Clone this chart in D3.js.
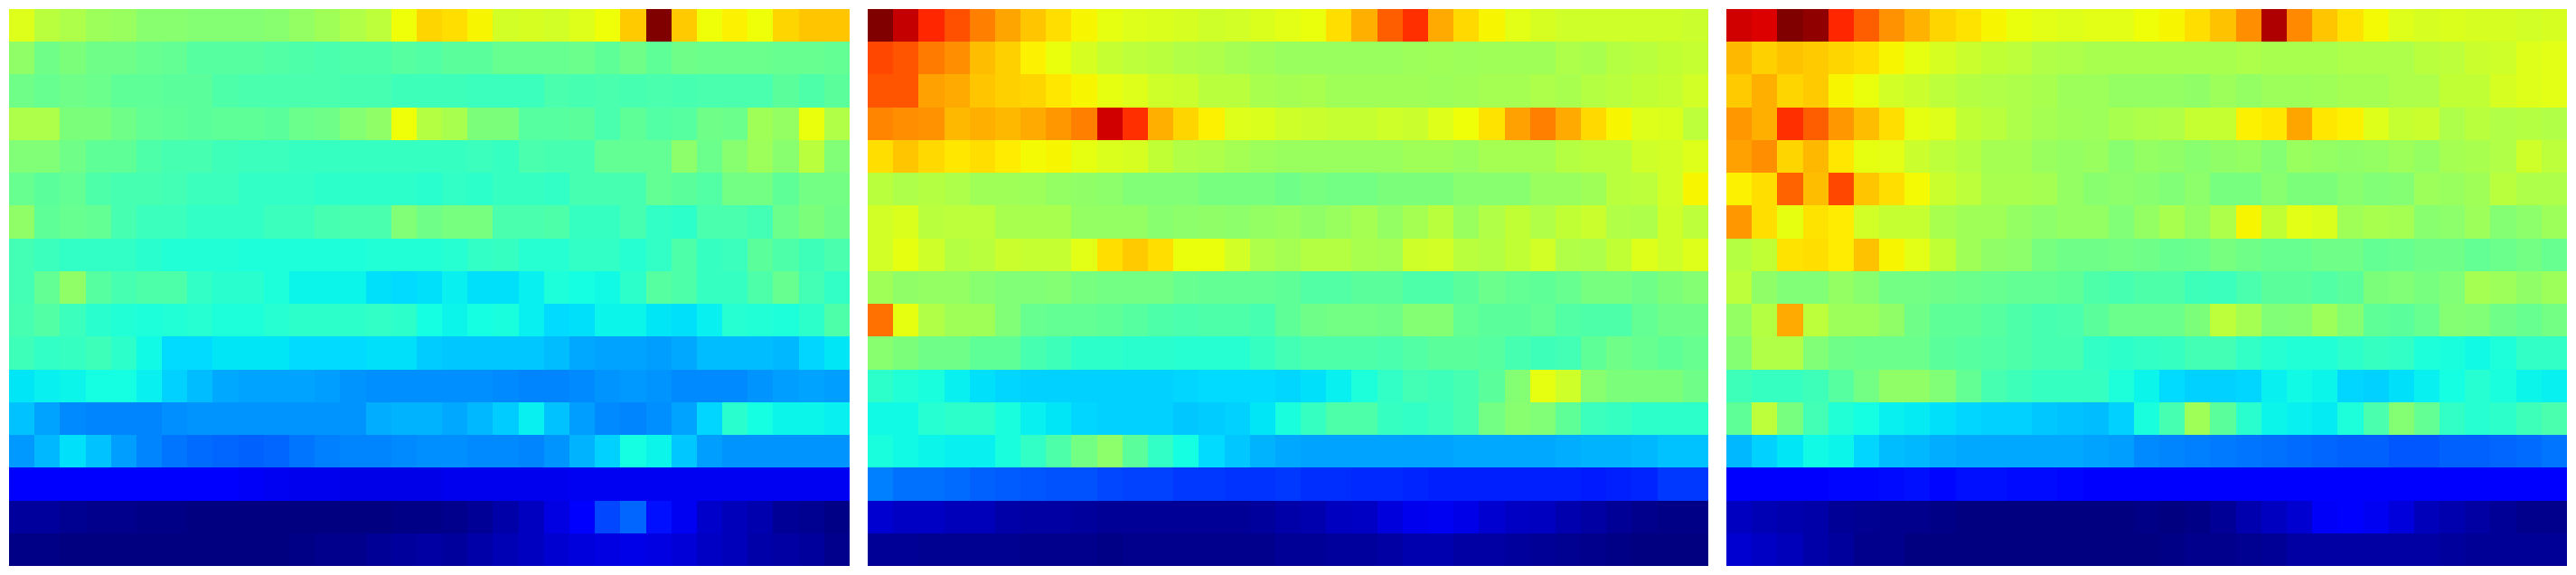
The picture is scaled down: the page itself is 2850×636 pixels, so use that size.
<!DOCTYPE html>
<html><head><meta charset="utf-8">
<script src="https://cdn.jsdelivr.net/npm/d3@7/dist/d3.min.js"></script>
<style>html,body{margin:0;padding:0;background:#fff}svg{display:block}rect{shape-rendering:crispEdges}</style>
</head><body><div id="chart"></div>
<script>
const panelA = [
[62,57.5,56,54,53.5,51.5,51.5,51,51,51,51.5,53,54.5,56.5,58,64,68.5,67.5,65,60.5,61,60.5,62,64,69.5,100,69.5,64,65.5,64,68.5,70,70],
[52.5,48.5,50,48.5,48.5,47.5,47,45.5,45.5,45.5,45,44.5,44,44.5,44.5,45.5,45,46,46,47.5,47.5,47.5,48,46.5,48.5,46.5,48.5,48,48,48,47.5,47.5,47],
[48.5,47.5,48.5,48,46.5,46.5,46,46,44.5,44,44,44,44,43.5,43.5,42.5,42.5,42.5,42,42,42,44,43.5,44,43.5,44,43.5,44,44,44,46,44.5,46],
[56,56,50,50,48.5,47,46.5,46,46.5,46.5,46,48,48.5,51,52.5,64,57,55.5,50,50,45.5,45.5,46,44,46.5,45,45.5,48.5,48,54.5,53,63.5,56.5],
[50.5,50.5,48.5,46.5,46.5,44.5,43.5,43.5,42.5,42,42,41.5,41.5,41.5,41.5,41.5,41.5,41.5,42,41.5,44,43.5,43.5,47,47,47,52,48,51.5,54,51.5,57.5,50.5],
[47.5,46,47,44.5,43.5,43.5,43,42,42,41,41,41,40.5,40.5,40.5,40.5,40,41,40.5,41.5,41.5,41,43.5,43.5,43.5,47,46,45,49,49,46.5,49,49],
[52.5,46.5,47.5,47,43.5,42,42,41,41,41,42,42,43.5,44,44,50.5,48.5,49.5,49.5,44,44,44.5,41.5,41.5,43.5,41,40.5,44,44,43,48,50,48.5],
[43,42,41,41,41,40,39,39,39,38.5,38.5,38.5,38.5,38.5,39,39,39,39.5,41,41.5,39.5,39.5,41,41,39.5,41,44.5,41.5,42,46,44.5,42.5,44],
[43,47,52.5,45.5,43.5,44.5,44.5,41,40,40,38.5,36.5,36.5,36.5,34.5,34,34.5,36,34.5,34.5,36,38.5,37.5,37,40.5,45.5,44.5,41.5,41.5,44.5,47.5,43,41],
[43.5,45,42,40,39,38.5,39,39.5,38.5,38.5,39.5,40.5,40.5,40.5,41,40.5,37.5,36.5,37.5,38,36,34,34.5,36.5,36.5,35,34.5,36,39.5,39,38.5,40.5,44.5],
[42.5,41,41.5,42.5,40.5,37,34,34,35,35,35,34,34,34,34.5,34.5,32.5,32,32,32,32,31,29,28.5,28.5,28,29,31,31,31,30.5,33.5,35],
[35,36,36.5,37.5,37.5,36,33,31,29,28.5,28.5,28.5,28,27,26.5,26.5,26.5,26.5,26.5,26,25.5,25.5,26,27,27.5,27,26,26,26,27,28,28.5,28],
[31.5,28.5,26,25.5,25.5,25.5,26.5,27,27,27,27,27,27,27,29.5,30,30,29,30.5,32.5,36,31.5,28,26,25.5,26.5,28.5,33.5,40,37.5,36.5,36.5,36],
[27.5,30.5,34.5,31.5,28,25.5,24,23,22.5,22,22.5,24,25,25.5,25.5,26,26.5,26.5,26,26,25.5,27,30,33,37.5,36.5,32,28,27,27,27,27,27],
[12,12,12,12,12,12,12,12,11,10.5,10,9.5,9.5,9,9,9,9,9.5,9.5,9.5,9.5,9.5,10,10,10,10,10,10,10,10,10,10,10],
[2.5,2.5,1.5,1,1,0.5,0.5,0,0,0,0,0,0,0,0,0.5,0.5,1,2,3.5,5.5,8.5,12,19.5,22.5,14,10,6.5,5,4,2,1.5,0.5],
[0.5,0.5,0,0,0,0,0,0,0,0,0,0.5,1,1,2,2.5,3,2.5,3.5,4.5,5.5,7,8,8.5,9,8.5,7.5,6,5,3.5,3,2.5,1]
];
const panelB = [
[100,94,87,82.5,77.5,73.5,70,67.5,65,63,62,61.5,61,60,60.5,61.5,62.5,63.5,67.5,72.5,81,86,73,68,65,62.5,61,60,60,60,60,60,59.5],
[83.5,82,78,76,71,69,65.5,63.5,61,59,58,57.5,56.5,56,55,54.5,53.5,53.5,53.5,53.5,53.5,54,54.5,54,54.5,54.5,54.5,56,55.5,57,57.5,58.5,59],
[82,82,74,73,70,69,68.5,66.5,65,63,62,60,59.5,57.5,57.5,55.5,55,55.5,54.5,54.5,54.5,54.5,54,54.5,55,55,56,55.5,57,57.5,58.5,59,60.5],
[77,76,75.5,71.5,72.5,71.5,73,75,77.5,93,86,72.5,68.5,65.5,62,61.5,60,59.5,59,59,60,59.5,62,64,67,74,77.5,73,68,65,62,61.5,58],
[67.5,70,68,66.5,67.5,66,64.5,65,63,61.5,61,58.5,56.5,56,55,54,53.5,53.5,53.5,53.5,53.5,54.5,54.5,53.5,55,55,55,57,57.5,57.5,60,60.5,62],
[57.5,56,57,56,54.5,54.5,54,53,52.5,52,50.5,50.5,50.5,49.5,49.5,49.5,48.5,49.5,49,49,50,50,50,51.5,51.5,51.5,53.5,53.5,54.5,57.5,58,60.5,65],
[60.5,61.5,57.5,58,58,55.5,55.5,55.5,53,53,53,51.5,52,52.5,52,53,53.5,52.5,53.5,55,53,55,57.5,53.5,56.5,58.5,56.5,58.5,59.5,56.5,56,60,58],
[60.5,63,60,57,57.5,59.5,59,59,62.5,67.5,69.5,67.5,63.5,63.5,60.5,56,55,57,57,55.5,55,60,60.5,57.5,57,58.5,60.5,56.5,56,58.5,62,60,62],
[54.5,52.5,53,53,51.5,50.5,50.5,51,49.5,49,49,49,47.5,47,47,47,46.5,45,45,46,46,44.5,44.5,46,48,47,46.5,47.5,49.5,49.5,48.5,50,51],
[79,63,56.5,54.5,54.5,50.5,47.5,47,47,46.5,45.5,44.5,44,44.5,44.5,43.5,46.5,48.5,49,49,48.5,51,51,47,46,46,47,45,44.5,44.5,47,48.5,48.5],
[51.5,50,48.5,48.5,46.5,46.5,43.5,42.5,40.5,40.5,40,40,39.5,39.5,39.5,41.5,43,44.5,44.5,44.5,44,45,46,46,45.5,43.5,42.5,43,46.5,48.5,47.5,46.5,47.5],
[40.5,39,38,36,34.5,33.5,33,33,33,33,33,33,33.5,34,34,34,33.5,34.5,36,38.5,41,43,42.5,43.5,46,51,63,60,51.5,50,50,50,48.5],
[37,37,39.5,40.5,40.5,38,36,35,33.5,33,33,33,32,32.5,33,35,38,41.5,44.5,44.5,41.5,41,42,43.5,49,51.5,50.5,46.5,42,41.5,40.5,40.5,40.5],
[38,37,36.5,36,36,38,41,44.5,49,52,46,41,37.5,34,32,30,29,28.5,28.5,28.5,28.5,28.5,28.5,29,29,29,29,29.5,30,30,30.5,31.5,31.5],
[25,23.5,23.5,23,22,21.5,21,20.5,20.5,19.5,19,19,18,18,17.5,17.5,18,17,17,16.5,16.5,16,15.5,15.5,15.5,15.5,15.5,15.5,15,15.5,16,18,18],
[7,6,6,5,5,3.5,3,3,2.5,2,2,2,2,2,2,2.5,3.5,4,5.5,6,8,9.5,10,9,7,6,5.5,4,3,2,1,0.5,0.5],
[2,2,1.5,1.5,1.5,1.5,1,1,1,0.5,1,1,1,1,1,1,2,2,2.5,2.5,3,4,4,3,3,2.5,2,1.5,1,0.5,0,0,0]
];
const panelC = [
[93,92,100,98.5,87,81,75.5,72,68.5,67,65,63.5,62.5,62,62.5,62.5,64,65,67.5,70.5,76,96,76.5,70,67,64.5,62,61,61.5,61,61,60.5,61],
[71.5,69,70.5,69.5,68.5,67.5,65,63,61,59.5,58.5,58,56.5,56,55.5,55.5,55.5,55.5,55.5,55.5,56,55.5,55.5,55.5,56,56,56,57.5,58,59.5,60,62,62.5],
[69.5,72.5,68.5,69.5,65,63.5,60.5,59.5,58,57,56.5,56,55.5,54,54,53,53,53,52.5,54,53,54,54,54.5,55,55,56,56,58.5,58.5,61,62,62.5],
[75,72.5,86,81,75,71,67.5,63,62,58.5,57.5,56,55,54.5,54,55.5,56,56.5,59,59,65.5,66.5,73.5,66.5,65.5,62,59,59.5,56,57.5,56.5,57,56.5],
[74,76,68.5,71.5,66.5,63,62.5,59.5,58,57,55,55,53.5,53,53.5,51.5,53,52.5,51.5,52.5,53,51,53.5,53,52.5,53,54,53,55,55.5,56.5,60,58],
[65.5,67.5,80.5,71,83.5,70,67.5,64.5,59.5,58,55.5,55.5,55,53,51.5,52,51.5,50.5,52,49.5,49.5,51.5,50,50,51.5,50.5,51,54,53.5,54.5,57.5,56,56],
[75,67.5,63,67,66,60.5,59,59,55.5,54.5,54.5,53,52,53,53,50.5,53,55.5,53,56,65,58.5,62.5,61.5,54.5,55.5,55,51.5,52,54,51,52,54],
[57,58.5,67,67.5,66,70.5,65,62.5,58.5,54.5,52.5,52,49.5,48.5,48.5,49,48.5,47.5,48,49.5,48.5,47.5,47.5,48.5,48.5,47,47.5,48.5,48.5,47,48,49,47.5],
[58,52.5,50.5,50.5,53,51.5,49,49,48.5,48,47.5,47,47,46.5,44.5,43.5,44.5,44.5,42.5,42,44,46,46,45,46,50,50.5,49.5,50.5,55,54,52.5,54],
[53,57,73,58,54,54,52.5,48.5,46.5,46.5,45.5,44.5,43.5,44,46,48,48,48,50,58,55,50.5,51,54,51,46.5,46,47.5,51,50.5,48.5,47.5,49],
[51,56.5,56.5,50.5,48.5,48,48,48,46,45.5,45,44.5,43.5,43.5,41,40.5,41,41.5,43,43,41,39.5,39,39,40.5,41.5,41,38.5,38,37,38.5,41,41],
[42.5,41.5,41.5,42.5,45.5,49,52.5,52.5,50.5,47,43.5,42.5,41.5,41.5,41.5,38.5,36.5,34,33,33,33.5,36,37,36.5,33.5,33,34.5,36,37.5,39.5,38,36.5,36],
[46.5,58,49.5,43,39,37.5,36,35.5,34.5,33.5,33,33,32,31.5,31,33,38,43.5,54.5,46,40,36.5,36,35.5,38.5,44,51,47,41,39.5,40.5,42.5,44],
[30.5,33,35,37,36.5,33.5,31,30.5,29.5,29,29,29,29,29,28.5,28,26,25.5,25,24.5,24,23.5,23,22.5,22,22,21,21,22,22,22.5,23,24],
[12,12,12,12,13,13,13.5,14,13,14,14,13.5,13.5,13,12.5,12.5,12,12,12,12,12,12,12,12,12,12,12,12,12,12,12,12,12],
[5.5,4.5,4,3.5,2,1.5,1,1,0.5,0,0,0,0,0,0,0,0.5,0,0.5,2,4,5.5,7,10.5,11,10,8,5,4,3,2,1,1],
[7,6,5,3.5,2.5,1,1,0,0,0,0,0,0,0,0,0,0,0.5,1,1,1.5,2,3,3,3,3,3,3,2.5,2,2,2,2]
];
const panels = [panelA, panelB, panelC];
const rowIds = d3.range(panelA.length);
const colIds = d3.range(panelA[0].length);

const chartWidth = 2850, chartHeight = 636;
const panelLeft = d3.scaleOrdinal().domain([0, 1, 2]).range([10, 960, 1910]);
const panelWidth = 930, plotTop = 10, plotBottom = 626;

const rCh = d3.scaleLinear().domain([0, 35, 66, 89, 100]).range([0, 0, 255, 255, 128]).clamp(true);
const gCh = d3.scaleLinear().domain([0, 12.5, 37.5, 64, 91, 100]).range([0, 0, 255, 255, 0, 0]).clamp(true);
const bCh = d3.scaleLinear().domain([0, 11, 34, 65, 100]).range([128, 255, 255, 0, 0]).clamp(true);
const jet = v => `rgb(${Math.round(rCh(v))},${Math.round(gCh(v))},${Math.round(bCh(v))})`;

const yBand = d3.scaleBand().domain(rowIds).range([plotTop, plotBottom]);

const svg = d3.select("#chart").append("svg").attr("width", chartWidth).attr("height", chartHeight);

panels.forEach((rows, p) => {
  const x0 = panelLeft(p);
  const xBand = d3.scaleBand().domain(colIds).range([x0, x0 + panelWidth]);
  const g = svg.append("g").attr("class", "panel");
  const cells = rows.flatMap((row, r) => row.map((v, c) => ({r, c, v})));
  g.selectAll("rect").data(cells).join("rect")
    .attr("x", d => Math.round(xBand(d.c)))
    .attr("y", d => Math.round(yBand(d.r)))
    .attr("width", d => Math.round(xBand(d.c) + xBand.bandwidth()) - Math.round(xBand(d.c)))
    .attr("height", d => Math.round(yBand(d.r) + yBand.bandwidth()) - Math.round(yBand(d.r)))
    .attr("fill", d => jet(d.v));
});
</script></body></html>
